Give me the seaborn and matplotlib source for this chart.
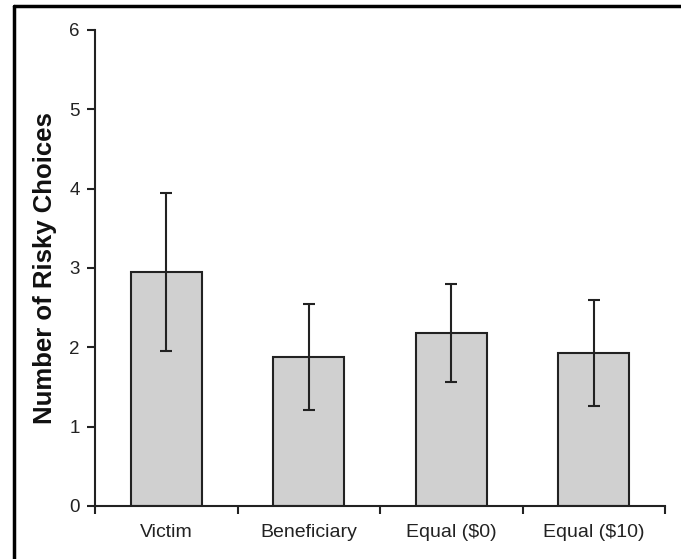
import matplotlib
matplotlib.use("Agg")
import matplotlib.pyplot as plt
import seaborn as sns
import pandas as pd
from matplotlib.lines import Line2D

categories = ["Victim", "Beneficiary", "Equal ($0)", "Equal ($10)"]
means = [2.95, 1.88, 2.18, 1.93]
errors = [1.00, 0.67, 0.62, 0.665]
yticks = [0, 1, 2, 3, 4, 5, 6]

sns.set_theme(style="white")
plt.rcParams["font.family"] = ["Liberation Sans", "DejaVu Sans"]

df = pd.DataFrame({"cond": categories, "mean": means, "err": errors})

fig = plt.figure(figsize=(6.81, 5.59), dpi=100)
ax = fig.add_axes([95/681, 1 - 506/559, 570/681, 476/559])

sns.barplot(data=df, x="cond", y="mean", order=categories, color="#d0d0d0",
            saturation=1, edgecolor="#222222", linewidth=1.5, width=0.5,
            errorbar=None, ax=ax)
ax.errorbar(range(len(categories)), means, yerr=errors, fmt="none",
            ecolor="#222222", elinewidth=1.5, capsize=4, capthick=1.5, zorder=5)

ax.set_xlim(-0.5, len(categories) - 0.5)
ax.set_ylim(0, 6)
ax.set_yticks(yticks)
ax.set_yticklabels([str(t) for t in yticks], fontsize=13.5)
ax.set_xticks(range(len(categories)))
ax.set_xticklabels(categories, fontsize=14)
ax.set_xticks([i - 0.5 for i in range(len(categories) + 1)], minor=True)
ax.tick_params(axis="x", which="major", length=0, pad=13, colors="#222222")
ax.tick_params(axis="x", which="minor", length=6, width=1.5, direction="out",
               bottom=True, color="#222222")
ax.tick_params(axis="y", length=6, width=1.5, direction="out", left=True,
               color="#222222", pad=5, labelcolor="#222222")
ax.set_xlabel("")
ax.set_ylabel("Number of Risky Choices", fontsize=18.5, fontweight="bold",
              labelpad=9, color="#111111")

for s in ["top", "right"]:
    ax.spines[s].set_visible(False)
for s in ["left", "bottom"]:
    ax.spines[s].set_color("#222222")
    ax.spines[s].set_linewidth(1.5)

# figure frame (top and left edges)
fig.add_artist(Line2D([14/681, 1], [1 - 6/559, 1 - 6/559], color="black",
                      linewidth=2.5, transform=fig.transFigure))
fig.add_artist(Line2D([14/681, 14/681], [0, 1 - 6/559], color="black",
                      linewidth=2.5, transform=fig.transFigure))

fig.savefig("out.png", dpi=100)
